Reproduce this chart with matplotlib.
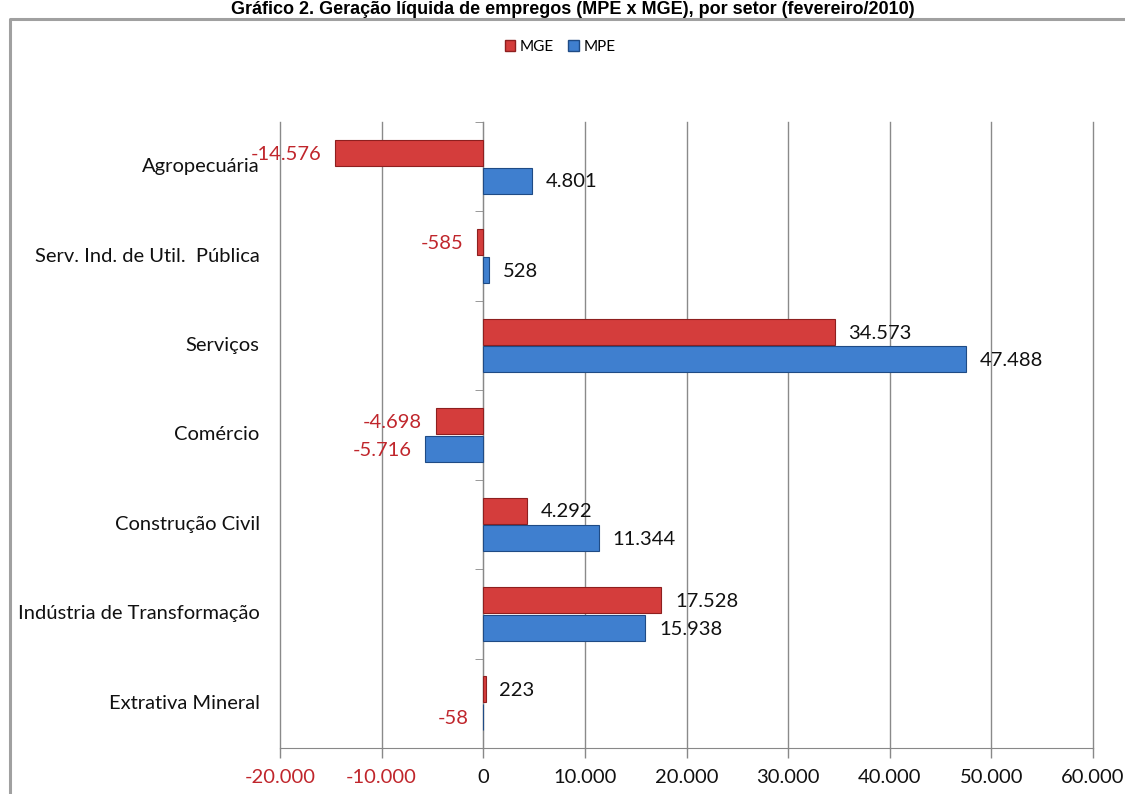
import matplotlib.pyplot as plt
import numpy as np
from matplotlib.lines import Line2D
from matplotlib.patches import Patch
from matplotlib.ticker import FuncFormatter, MultipleLocator

categories = ['Agropecuária', 'Serv. Ind. de Util.  Pública', 'Serviços', 'Comércio',
              'Construção Civil', 'Indústria de Transformação', 'Extrativa Mineral']
mge = [-14576, -585, 34573, -4698, 4292, 17528, 223]
mpe = [4801, 528, 47488, -5716, 11344, 15938, -58]
x_ticks = [-20000, -10000, 0, 10000, 20000, 30000, 40000, 50000, 60000]

title = 'Gráfico 2. Geração líquida de empregos (MPE x MGE), por setor (fevereiro/2010)'

RED = '#d43d3c'
BLUE = '#3f7fcf'
NEG = '#c0262c'
FS = 14.5
plt.rcParams['font.family'] = ['Lato', 'DejaVu Sans']


def fmt(v):
    return f'{v:,.0f}'.replace(',', '.')


fig = plt.figure(figsize=(11.25, 7.94), dpi=100)
ax = fig.add_axes([280 / 1125, 1 - 748 / 794, (1093 - 280) / 1125, (748 - 122) / 794])

y = np.arange(len(categories))
h = 0.29
off = 0.155
ax.barh(y - off, mge, height=h, color=RED, edgecolor='#8e1f1f', linewidth=0.8, zorder=3)
ax.barh(y + off, mpe, height=h, color=BLUE, edgecolor='#1f4b85', linewidth=0.8, zorder=3)

for series, dy in ((mge, -off), (mpe, off)):
    for yi, v in zip(y, series):
        if v >= 0:
            ax.annotate(fmt(v), (v, yi + dy), xytext=(10, -1), textcoords='offset points',
                        ha='left', va='center', fontsize=FS, color='#111111', zorder=4)
        else:
            ax.annotate(fmt(v), (v, yi + dy), xytext=(-10, -1), textcoords='offset points',
                        ha='right', va='center', fontsize=FS, color=NEG, zorder=4)

ax.set_xlim(-20000, 60000)
ax.set_ylim(len(categories) - 0.5, -0.5)
ax.xaxis.set_major_locator(MultipleLocator(10000))
ax.xaxis.set_major_formatter(FuncFormatter(lambda v, p: fmt(v)))
ax.set_xticks(x_ticks)
ax.tick_params(axis='x', length=7, width=1, color='#888888', labelsize=FS, pad=8)
for lab, v in zip(ax.get_xticklabels(), x_ticks):
    lab.set_color(NEG if v < 0 else '#111111')
ax.grid(axis='x', color='#8a8a8a', linewidth=1, zorder=0)
for gl in ax.get_xgridlines():
    gl.set_clip_on(False)

# vertical axis sits on zero, category labels on the left
ax.spines['left'].set_position(('data', 0))
ax.spines['left'].set_color('#888888')
ax.spines['top'].set_visible(False)
ax.spines['right'].set_visible(False)
ax.spines['bottom'].set_color('#888888')
ax.set_yticks([])
ax.set_yticks(np.arange(-0.5, len(categories)), minor=True)
ax.tick_params(axis='y', which='minor', length=6, color='#888888', labelleft=False)
for yi, name in zip(y, categories):
    ax.text(-0.025, yi, name, transform=ax.get_yaxis_transform(), ha='right', va='center',
            fontsize=FS, color='#111111')

# chart border and title
fig.add_artist(Line2D([10 / 1125, 10 / 1125, 1.01], [-0.01, 1 - 19 / 794, 1 - 19 / 794],
                      transform=fig.transFigure, color='#a0a0a0', linewidth=2.2))
fig.text(573 / 1125, 1 - 1 / 794, title, ha='center', va='top', fontsize=13,
         fontweight='bold', family=['Liberation Sans', 'DejaVu Sans'])

handles = [Patch(facecolor=RED, edgecolor='#8e1f1f'), Patch(facecolor=BLUE, edgecolor='#1f4b85')]
fig.legend(handles, ['MGE', 'MPE'], loc='center', bbox_to_anchor=(560 / 1125, 1 - 47 / 794),
           ncol=2, frameon=False, fontsize=11, handlelength=0.7, handleheight=0.7,
           handletextpad=0.3, columnspacing=0.9)

fig.savefig('out.png', dpi=100)
